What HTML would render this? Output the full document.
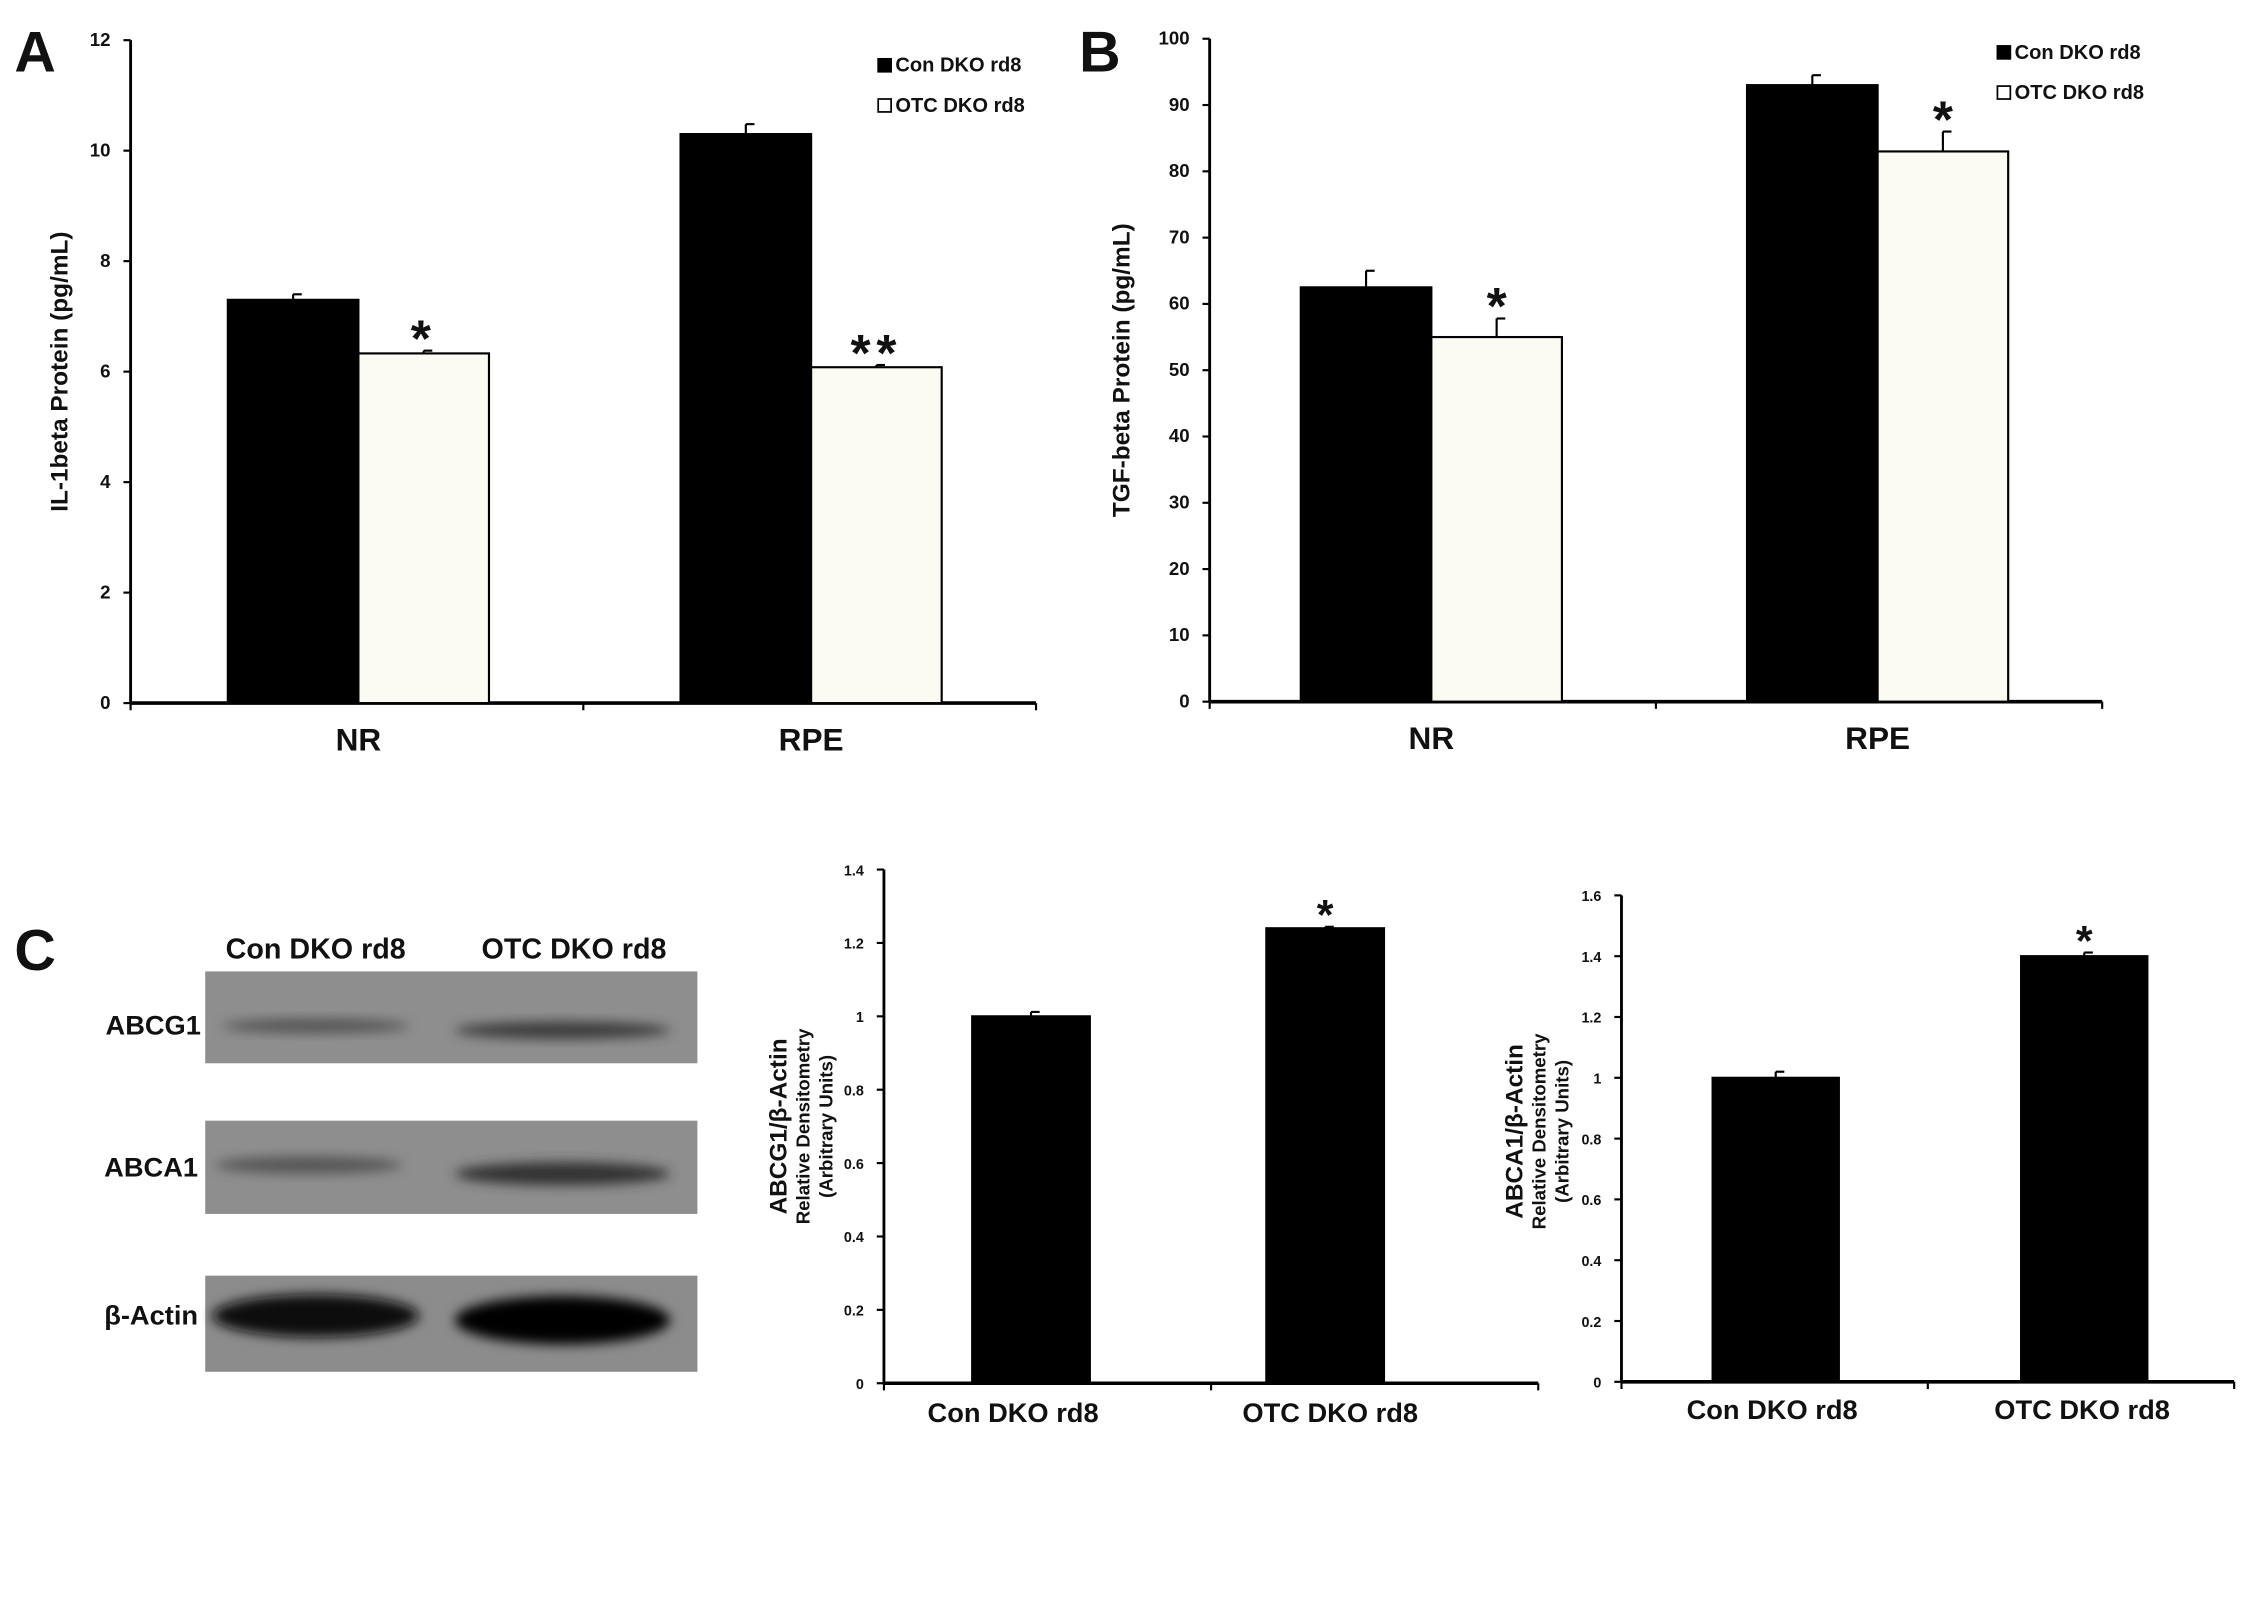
<!DOCTYPE html>
<html><head><meta charset="utf-8"><style>
html,body{margin:0;padding:0;background:#fff}
svg{display:block}
text{font-family:"Liberation Sans",sans-serif;fill:#111}
</style></head><body>
<svg id="fig" width="2250" height="1618" viewBox="0 0 1568 1127.6" xmlns="http://www.w3.org/2000/svg">
<rect width="1568" height="1128" fill="#fff"/>
<text x="10" y="50" font-size="40" font-weight="bold">A</text>
<text x="752" y="50" font-size="40" font-weight="bold">B</text>
<text x="10" y="676" font-size="40" font-weight="bold">C</text>
<g id="blot">
<defs><filter id="blur" x="-20%" y="-50%" width="140%" height="200%"><feGaussianBlur stdDeviation="4"/></filter></defs>
<text x="220" y="668" font-size="20" font-weight="bold" text-anchor="middle">Con DKO rd8</text>
<text x="400" y="668" font-size="20" font-weight="bold" text-anchor="middle">OTC DKO rd8</text>
<rect x="143" y="677" width="343" height="64" fill="#8e8e8e"/>
<rect x="143" y="781" width="343" height="65" fill="#8e8e8e"/>
<rect x="143" y="889" width="343" height="67" fill="#8c8c8c"/>
<ellipse cx="220" cy="715" rx="65" ry="5" fill="#555" filter="url(#blur)"/>
<ellipse cx="392" cy="718" rx="75" ry="6" fill="#3a3a3a" filter="url(#blur)"/>
<ellipse cx="215" cy="812" rx="65" ry="6" fill="#555" filter="url(#blur)"/>
<ellipse cx="392" cy="818" rx="75" ry="8" fill="#333" filter="url(#blur)"/>
<ellipse cx="220" cy="917" rx="72" ry="15" fill="#0a0a0a" filter="url(#blur)"/>
<ellipse cx="392" cy="920" rx="75" ry="17" fill="#050505" filter="url(#blur)"/>
<text x="140" y="721" font-size="19" font-weight="bold" text-anchor="end">ABCG1</text>
<text x="138" y="820" font-size="19" font-weight="bold" text-anchor="end">ABCA1</text>
<text x="138" y="923" font-size="19" font-weight="bold" text-anchor="end">β-Actin</text>
</g>
</svg>
<script>
// Chart A data
const aCategories=["NR","RPE"];
const aCon=[7.3,10.3];
const aConErr=[0.1,0.18];
const aOtc=[6.33,6.08];
const aOtcErr=[0.05,0.04];
const aTicks=[0,2,4,6,8,10,12];
const aStars=["*","**"];
// Chart B data
const bCategories=["NR","RPE"];
const bCon=[62.5,93];
const bConErr=[2.5,1.5];
const bOtc=[55,83];
const bOtcErr=[2.8,3];
const bTicks=[0,10,20,30,40,50,60,70,80,90,100];
const bStars=["*","*"];
// Chart C1 data
const c1Categories=["Con DKO rd8","OTC DKO rd8"];
const c1Values=[1.0,1.24];
const c1Err=[0.012,0.004];
const c1Ticks=[0,0.2,0.4,0.6,0.8,1,1.2,1.4];
const c1Stars=["","*"];
// Chart C2 data
const c2Categories=["Con DKO rd8","OTC DKO rd8"];
const c2Values=[1.0,1.4];
const c2Err=[0.02,0.012];
const c2Ticks=[0,0.2,0.4,0.6,0.8,1,1.2,1.4,1.6];
const c2Stars=["","*"];

const NS="http://www.w3.org/2000/svg";
const svg=document.getElementById('fig');
function mk(tag,attrs,parent){const e=document.createElementNS(NS,tag);for(const k in attrs)e.setAttribute(k,attrs[k]);(parent||svg).appendChild(e);return e;}

function grouped(cfg){
  const g=mk('g',{});
  
  
  const y=v=>cfg.y0-(v-cfg.min)/(cfg.max-cfg.min)*(cfg.y0-cfg.yTop);
  const ax=mk('line',{x1:cfg.x0,y1:cfg.yTop,x2:cfg.x0,y2:cfg.y0,stroke:'#000','stroke-width':2},g);
  
  
  const xx=mk('line',{x1:cfg.x0,y1:cfg.y0,x2:cfg.x1,y2:cfg.y0,stroke:'#000','stroke-width':2.5},g);
  
  
  cfg.ticks.forEach(t=>{
    mk('line',{x1:cfg.x0-5,y1:y(t),x2:cfg.x0,y2:y(t),stroke:'#000','stroke-width':1.5},g);
    const tl=mk('text',{x:cfg.x0-14,y:y(t)+4,'font-size':cfg.tickFs,'font-weight':'bold','text-anchor':'end'},g);
    tl.textContent=t;
    
    
  });
  const n=cfg.cats.length;
  const gw=(cfg.x1-cfg.x0)/n;
  for(let i=0;i<=n;i++) mk('line',{x1:cfg.x0+gw*i,y1:cfg.y0,x2:cfg.x0+gw*i,y2:cfg.y0+5,stroke:'#000','stroke-width':1.5},g);
  const bx0=cfg.bandX0!==undefined?cfg.bandX0:cfg.x0;
  const bx1=cfg.bandX1!==undefined?cfg.bandX1:cfg.x1;
  const bgw=(bx1-bx0)/n;
  cfg.cats.forEach((c,i)=>{
    const cx=bx0+bgw*(i+0.5)+cfg.catShift;
    const series=cfg.series;
    const bw=cfg.bw;
    const start=cx-bw*series.length/2;
    series.forEach((s,j)=>{
      const bx=start+bw*j;
      const v=s.vals[i];
      const e=s.err[i];
      const el=mk('line',{x1:bx+bw/2,y1:y(v),x2:bx+bw/2,y2:y(v+e),stroke:'#000','stroke-width':1.5},g);
      
      
      mk('line',{x1:bx+bw/2,y1:y(v+e),x2:bx+bw/2+6,y2:y(v+e),stroke:'#000','stroke-width':1.5},g);
      const r=mk('rect',{x:bx,y:y(v),width:bw,height:cfg.y0-y(v),fill:s.fill,stroke:'#000','stroke-width':1.5},g);
      
      
      if(s.stars && s.stars[i]){
        const st=mk('text',{x:bx+bw/2,y:y(v+e)-4+cfg.starDy,'font-size':cfg.starFs,'font-weight':'bold','text-anchor':'middle','letter-spacing':cfg.starLs||0},g);
        st.textContent=s.stars[i];
        
        
      }
    });
    const lx=cfg.labelX?cfg.labelX[i]:cx;
    const cl=mk('text',{x:lx,y:cfg.y0+cfg.catDy,'font-size':cfg.catFs,'font-weight':'bold','text-anchor':'middle'},g);
    cl.textContent=c;
    
    
  });
  cfg.titles.forEach((t,k)=>{
    const tt=mk('text',{transform:`translate(${t.x},${(cfg.y0+cfg.yTop)/2+(t.dy||0)}) rotate(-90)`,'font-size':t.fs,'font-weight':'bold','text-anchor':'middle'},g);
    tt.textContent=t.text;
    
    
  });
  if(cfg.legend){
    cfg.legend.items.forEach((it,k)=>{
      const ly=cfg.legend.y+k*cfg.legend.dy;
      const sw=mk('rect',{x:cfg.legend.x,y:ly-9,width:9,height:9,fill:it.fill,stroke:'#000','stroke-width':1.2},g);
      
      
      const lt=mk('text',{x:cfg.legend.x+12,y:ly,'font-size':14,'font-weight':'bold'},g);
      lt.textContent=it.label;
      
      
    });
  }
}
const WHITE='#fcfbf3';
grouped({name:'chart-a-il1beta',x0:91,x1:722,y0:490,yTop:28,min:0,max:12,ticks:aTicks,tickFs:13,cats:aCategories,catShift:1,bw:91,
  series:[{key:'con',vals:aCon,err:aConErr,fill:'#000'},{key:'otc',vals:aOtc,err:aOtcErr,fill:WHITE,stars:aStars}],
  starFs:36,starDy:8,starLs:4,catFs:22,catDy:33,
  titles:[{text:'IL-1beta Protein  (pg/mL)',x:47,fs:17}],
  legend:{x:612,y:50,dy:28,items:[{fill:'#000',label:'Con DKO rd8'},{fill:'#fff',label:'OTC DKO rd8'}]}});
grouped({name:'chart-b-tgfbeta',x0:843,x1:1465,y0:489,yTop:27,min:0,max:100,ticks:bTicks,tickFs:13,cats:bCategories,catShift:-1,bw:91,
  series:[{key:'con',vals:bCon,err:bConErr,fill:'#000'},{key:'otc',vals:bOtc,err:bOtcErr,fill:WHITE,stars:bStars}],
  starFs:36,starDy:8,catFs:22,catDy:33,
  titles:[{text:'TGF-beta  Protein  (pg/mL)',x:787,fs:17}],
  legend:{x:1392,y:41,dy:28,items:[{fill:'#000',label:'Con DKO rd8'},{fill:'#fff',label:'OTC DKO rd8'}]}});
grouped({name:'chart-c-abcg1',x0:616,x1:1072,y0:964,yTop:606,min:0,max:1.4,ticks:c1Ticks,tickFs:10,cats:c1Categories,catShift:0,bw:82,bandX0:616,bandX1:1026,labelX:[706,927],
  series:[{key:'value',vals:c1Values,err:c1Err,fill:'#000',stars:c1Stars}],
  starFs:30,starDy:6,catFs:19,catDy:27,
  titles:[{text:'ABCG1/β-Actin',x:548,fs:17},{text:'Relative Densitometry',x:564,fs:13},{text:'(Arbitrary Units)',x:580,fs:13}]});
grouped({name:'chart-c-abca1',x0:1130,x1:1557,y0:963,yTop:624,min:0,max:1.6,ticks:c2Ticks,tickFs:10,cats:c2Categories,catShift:0,bw:88,bandX0:1130,bandX1:1560,labelX:[1235,1451],
  series:[{key:'value',vals:c2Values,err:c2Err,fill:'#000',stars:c2Stars}],
  starFs:30,starDy:6,catFs:19,catDy:26,
  titles:[{text:'ABCA1/β-Actin',x:1061,fs:17,dy:-5},{text:'Relative Densitometry',x:1077,fs:13,dy:-5},{text:'(Arbitrary Units)',x:1093,fs:13,dy:-5}]});
</script>
</body></html>
